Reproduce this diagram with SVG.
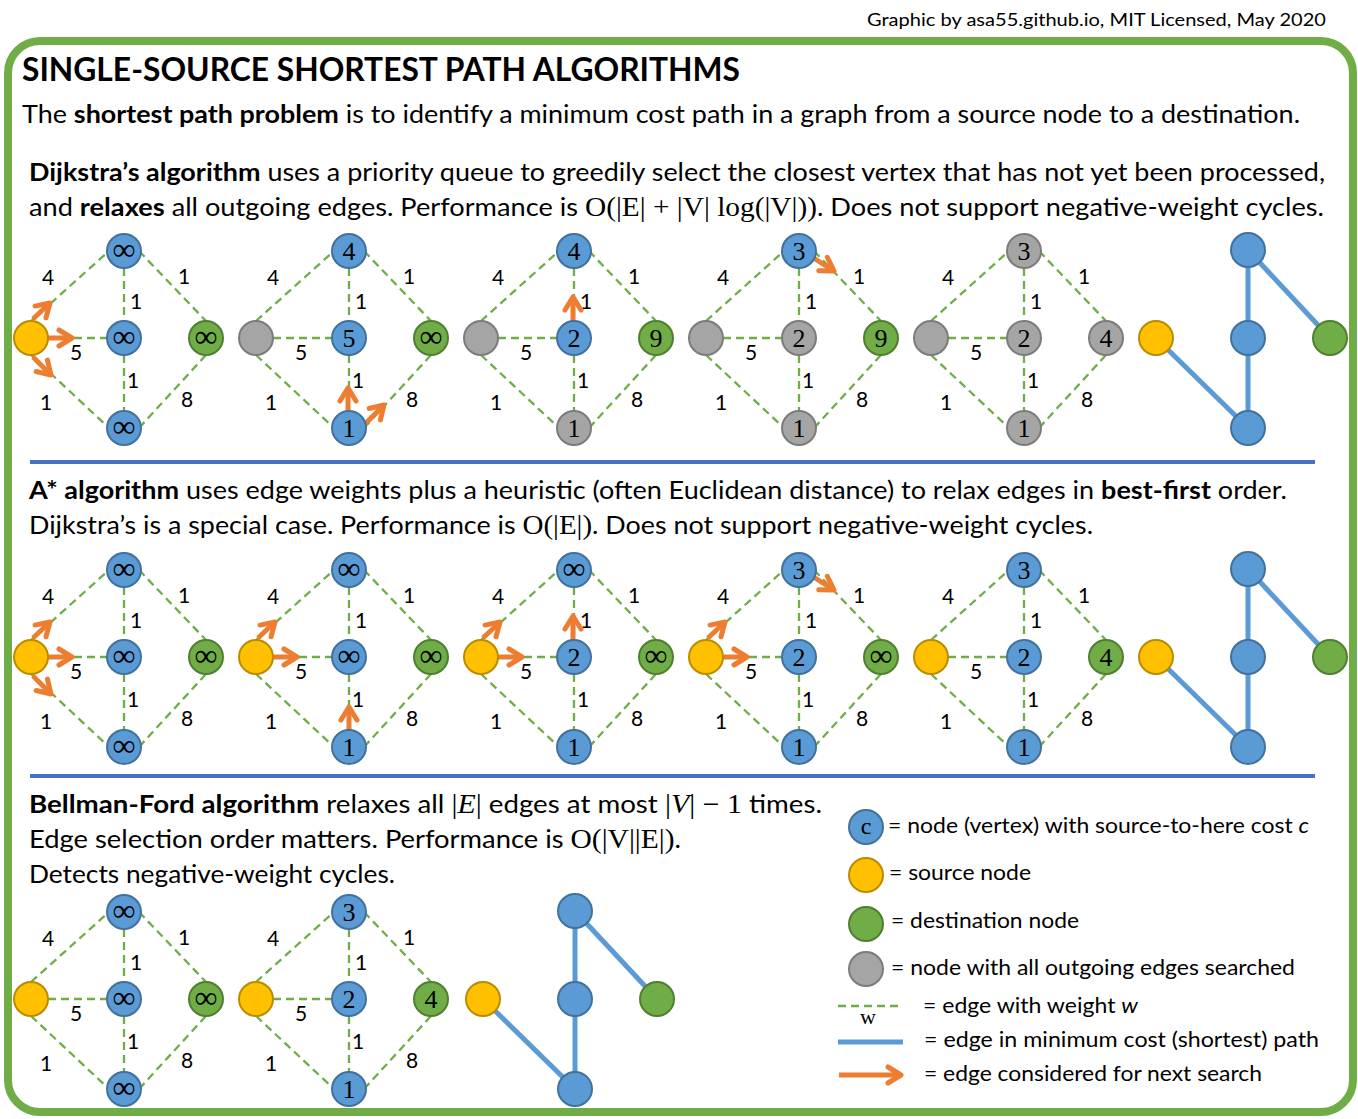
<svg xmlns="http://www.w3.org/2000/svg" xmlns:xlink="http://www.w3.org/1999/xlink" width="1358" height="1119" viewBox="0 0 1358 1119">
<style>
.e line{stroke:#70AD47;stroke-width:2.3;stroke-dasharray:8 5;fill:none}
.w{font-family:Lato,"Liberation Sans",sans-serif;font-size:21px;fill:#000;text-anchor:middle}
.n circle{stroke-width:2}
.b circle{fill:#5B9BD5;stroke:#41719C}
.y circle{fill:#FFC000;stroke:#BC8C00}
.g circle{fill:#70AD47;stroke:#507E32}
.k circle{fill:#A5A5A5;stroke:#7C7C7C}
.v{font-family:"Liberation Serif","DejaVu Serif",serif;font-size:26px;text-anchor:middle;fill:#000}
.i{font-family:"Liberation Serif","DejaVu Serif",serif;font-size:32px;text-anchor:middle;fill:#000}
.p line{stroke:#5B9BD5;stroke-width:5}
.arr{stroke:#ED7D31;stroke-width:5;marker-end:url(#ah)}
.t{font-family:Lato,"Liberation Sans",sans-serif;font-size:25px;fill:#000}
.lg{font-family:Lato,"Liberation Sans",sans-serif;font-size:22px;fill:#000}
.m{font-family:"Liberation Serif","DejaVu Serif",serif;font-size:27px}
.bd{font-weight:bold}
</style>
<defs>
<marker id="ah" viewBox="-18 -12 22 24" refX="0" refY="0" markerWidth="22" markerHeight="24" markerUnits="userSpaceOnUse" orient="auto">
<path d="M-13,-8 L0,0 L-13,8" fill="none" stroke="#ED7D31" stroke-width="5" stroke-linecap="round" stroke-linejoin="round"/>
</marker>
<g id="edges">
<g class="e">
<line x1="0" y1="-17" x2="78" y2="-87"/>
<line x1="0" y1="17" x2="78" y2="90"/>
<line x1="17" y1="0" x2="76" y2="0"/>
<line x1="93" y1="-70" x2="93" y2="-17"/>
<line x1="93" y1="17" x2="93" y2="73"/>
<line x1="108" y1="-87" x2="175" y2="-17"/>
<line x1="108" y1="90" x2="175" y2="17"/>
</g>
<text class="w" x="17" y="-53">4</text>
<text class="w" x="153" y="-54">1</text>
<text class="w" x="105" y="-29">1</text>
<text class="w" x="45" y="22">5</text>
<text class="w" x="102" y="50">1</text>
<text class="w" x="15" y="72">1</text>
<text class="w" x="156" y="69">8</text>
</g>
<g id="path" class="p">
<line x1="0" y1="0" x2="92" y2="90"/>
<line x1="92" y1="90" x2="92" y2="0"/>
<line x1="92" y1="0" x2="92" y2="-88"/>
<line x1="92" y1="-88" x2="174" y2="0"/>
</g>
</defs>

<rect x="0" y="0" width="1358" height="1119" fill="#fff"/>
<rect x="8" y="41" width="1345" height="1071" rx="32" fill="none" stroke="#70AD47" stroke-width="8"/>
<text class="t" x="867" y="26" textLength="459" lengthAdjust="spacingAndGlyphs" style="font-size:18px">Graphic by asa55.github.io, MIT Licensed, May 2020</text>
<text class="t bd" x="22" y="81" style="font-size:33px" textLength="718" lengthAdjust="spacingAndGlyphs">SINGLE-SOURCE SHORTEST PATH ALGORITHMS</text>
<text class="t" x="22" y="123" textLength="1278" lengthAdjust="spacingAndGlyphs">The <tspan class="bd">shortest path problem</tspan> is to identify a minimum cost path in a graph from a source node to a destination.</text>
<text class="t" x="29" y="181" textLength="1296" lengthAdjust="spacingAndGlyphs"><tspan class="bd">Dijkstra’s algorithm</tspan> uses a priority queue to greedily select the closest vertex that has not yet been processed,</text>
<text class="t" x="29" y="216" textLength="1295" lengthAdjust="spacingAndGlyphs">and <tspan class="bd">relaxes</tspan> all outgoing edges. Performance is <tspan class="m">O(|E| + |V| log(|V|))</tspan>. Does not support negative-weight cycles.</text>
<text class="t" x="29" y="499" textLength="1258" lengthAdjust="spacingAndGlyphs"><tspan class="bd">A* algorithm</tspan> uses edge weights plus a heuristic (often Euclidean distance) to relax edges in <tspan class="bd">best-first</tspan> order.</text>
<text class="t" x="29" y="534" textLength="1064" lengthAdjust="spacingAndGlyphs">Dijkstra’s is a special case. Performance is <tspan class="m">O(|E|)</tspan>. Does not support negative-weight cycles.</text>
<text class="t" x="29" y="813" textLength="793" lengthAdjust="spacingAndGlyphs"><tspan class="bd">Bellman-Ford algorithm</tspan> relaxes all <tspan class="m">|<tspan font-style="italic">E</tspan>|</tspan> edges at most <tspan class="m">|<tspan font-style="italic">V</tspan>| − 1</tspan> times.</text>
<text class="t" x="29" y="848" textLength="652" lengthAdjust="spacingAndGlyphs">Edge selection order matters. Performance is <tspan class="m">O(|V||E|)</tspan>.</text>
<text class="t" x="29" y="883" textLength="366" lengthAdjust="spacingAndGlyphs">Detects negative-weight cycles.</text>

<g id="separators" stroke="#4472C4" stroke-width="4">
<line x1="30" y1="462" x2="1315" y2="462"/>
<line x1="30" y1="776" x2="1315" y2="776"/>
</g>

<g id="connectors">
<use xlink:href="#edges" href="#edges" transform="translate(31,338)"/>
<use xlink:href="#edges" href="#edges" transform="translate(256,338)"/>
<use xlink:href="#edges" href="#edges" transform="translate(481,338)"/>
<use xlink:href="#edges" href="#edges" transform="translate(706,338)"/>
<use xlink:href="#edges" href="#edges" transform="translate(931,338)"/>
<use xlink:href="#path" href="#path" transform="translate(1156,338)"/>
<use xlink:href="#edges" href="#edges" transform="translate(31,657)"/>
<use xlink:href="#edges" href="#edges" transform="translate(256,657)"/>
<use xlink:href="#edges" href="#edges" transform="translate(481,657)"/>
<use xlink:href="#edges" href="#edges" transform="translate(706,657)"/>
<use xlink:href="#edges" href="#edges" transform="translate(931,657)"/>
<use xlink:href="#path" href="#path" transform="translate(1156,657)"/>
<use xlink:href="#edges" href="#edges" transform="translate(31,999)"/>
<use xlink:href="#edges" href="#edges" transform="translate(256,999)"/>
<use xlink:href="#path" href="#path" transform="translate(483,999)"/>
<g id="arrows">
<line class="arr" x1="33" y1="319" x2="50" y2="303"/>
<line class="arr" x1="48" y1="338" x2="72" y2="338"/>
<line class="arr" x1="33" y1="357" x2="51" y2="375"/>
<line class="arr" x1="348" y1="411" x2="348" y2="388"/>
<line class="arr" x1="365" y1="424" x2="384" y2="405"/>
<line class="arr" x1="573" y1="321" x2="573" y2="297"/>
<line class="arr" x1="812" y1="257" x2="834" y2="271"/>
<line class="arr" x1="33" y1="638" x2="50" y2="622"/>
<line class="arr" x1="48" y1="657" x2="72" y2="657"/>
<line class="arr" x1="33" y1="676" x2="51" y2="694"/>
<line class="arr" x1="258" y1="638" x2="275" y2="622"/>
<line class="arr" x1="273" y1="657" x2="297" y2="657"/>
<line class="arr" x1="349" y1="730" x2="349" y2="707"/>
<line class="arr" x1="483" y1="638" x2="500" y2="622"/>
<line class="arr" x1="498" y1="657" x2="522" y2="657"/>
<line class="arr" x1="573" y1="640" x2="573" y2="616"/>
<line class="arr" x1="708" y1="638" x2="725" y2="622"/>
<line class="arr" x1="723" y1="657" x2="747" y2="657"/>
<line class="arr" x1="812" y1="576" x2="834" y2="590"/>
</g>
</g>

<!-- Dijkstra row -->
<g id="dijkstra-1" transform="translate(31,338)">
<g id="dj1-s" class="n y"><circle cx="0" cy="0" r="17"/></g>
<g id="dj1-t" class="n b"><circle cx="93" cy="-87" r="17"/><text class="i" x="93" y="-78">∞</text></g>
<g id="dj1-m" class="n b"><circle cx="93" cy="0" r="17"/><text class="i" x="93" y="9">∞</text></g>
<g id="dj1-b" class="n b"><circle cx="93" cy="90" r="17"/><text class="i" x="93" y="99">∞</text></g>
<g id="dj1-d" class="n g"><circle cx="175" cy="0" r="17"/><text class="i" x="175" y="9">∞</text></g>
</g>
<g id="dijkstra-2" transform="translate(256,338)">
<g id="dj2-s" class="n k"><circle cx="0" cy="0" r="17"/></g>
<g id="dj2-t" class="n b"><circle cx="93" cy="-87" r="17"/><text class="v" x="93" y="-78">4</text></g>
<g id="dj2-m" class="n b"><circle cx="93" cy="0" r="17"/><text class="v" x="93" y="9">5</text></g>
<g id="dj2-b" class="n b"><circle cx="93" cy="90" r="17"/><text class="v" x="93" y="99">1</text></g>
<g id="dj2-d" class="n g"><circle cx="175" cy="0" r="17"/><text class="i" x="175" y="9">∞</text></g>
</g>
<g id="dijkstra-3" transform="translate(481,338)">
<g id="dj3-s" class="n k"><circle cx="0" cy="0" r="17"/></g>
<g id="dj3-t" class="n b"><circle cx="93" cy="-87" r="17"/><text class="v" x="93" y="-78">4</text></g>
<g id="dj3-m" class="n b"><circle cx="93" cy="0" r="17"/><text class="v" x="93" y="9">2</text></g>
<g id="dj3-b" class="n k"><circle cx="93" cy="90" r="17"/><text class="v" x="93" y="99">1</text></g>
<g id="dj3-d" class="n g"><circle cx="175" cy="0" r="17"/><text class="v" x="175" y="9">9</text></g>
</g>
<g id="dijkstra-4" transform="translate(706,338)">
<g id="dj4-s" class="n k"><circle cx="0" cy="0" r="17"/></g>
<g id="dj4-t" class="n b"><circle cx="93" cy="-87" r="17"/><text class="v" x="93" y="-78">3</text></g>
<g id="dj4-m" class="n k"><circle cx="93" cy="0" r="17"/><text class="v" x="93" y="9">2</text></g>
<g id="dj4-b" class="n k"><circle cx="93" cy="90" r="17"/><text class="v" x="93" y="99">1</text></g>
<g id="dj4-d" class="n g"><circle cx="175" cy="0" r="17"/><text class="v" x="175" y="9">9</text></g>
</g>
<g id="dijkstra-5" transform="translate(931,338)">
<g id="dj5-s" class="n k"><circle cx="0" cy="0" r="17"/></g>
<g id="dj5-t" class="n k"><circle cx="93" cy="-87" r="17"/><text class="v" x="93" y="-78">3</text></g>
<g id="dj5-m" class="n k"><circle cx="93" cy="0" r="17"/><text class="v" x="93" y="9">2</text></g>
<g id="dj5-b" class="n k"><circle cx="93" cy="90" r="17"/><text class="v" x="93" y="99">1</text></g>
<g id="dj5-d" class="n k"><circle cx="175" cy="0" r="17"/><text class="v" x="175" y="9">4</text></g>
</g>
<g id="dijkstra-path" transform="translate(1156,338)">
<g id="djp-s" class="n y"><circle cx="0" cy="0" r="17"/></g>
<g id="djp-t" class="n b"><circle cx="92" cy="-88" r="17"/></g>
<g id="djp-m" class="n b"><circle cx="92" cy="0" r="17"/></g>
<g id="djp-b" class="n b"><circle cx="92" cy="90" r="17"/></g>
<g id="djp-d" class="n g"><circle cx="174" cy="0" r="17"/></g>
</g>

<!-- A* row -->
<g id="astar-1" transform="translate(31,657)">
<g id="as1-s" class="n y"><circle cx="0" cy="0" r="17"/></g>
<g id="as1-t" class="n b"><circle cx="93" cy="-87" r="17"/><text class="i" x="93" y="-78">∞</text></g>
<g id="as1-m" class="n b"><circle cx="93" cy="0" r="17"/><text class="i" x="93" y="9">∞</text></g>
<g id="as1-b" class="n b"><circle cx="93" cy="90" r="17"/><text class="i" x="93" y="99">∞</text></g>
<g id="as1-d" class="n g"><circle cx="175" cy="0" r="17"/><text class="i" x="175" y="9">∞</text></g>
</g>
<g id="astar-2" transform="translate(256,657)">
<g id="as2-s" class="n y"><circle cx="0" cy="0" r="17"/></g>
<g id="as2-t" class="n b"><circle cx="93" cy="-87" r="17"/><text class="i" x="93" y="-78">∞</text></g>
<g id="as2-m" class="n b"><circle cx="93" cy="0" r="17"/><text class="i" x="93" y="9">∞</text></g>
<g id="as2-b" class="n b"><circle cx="93" cy="90" r="17"/><text class="v" x="93" y="99">1</text></g>
<g id="as2-d" class="n g"><circle cx="175" cy="0" r="17"/><text class="i" x="175" y="9">∞</text></g>
</g>
<g id="astar-3" transform="translate(481,657)">
<g id="as3-s" class="n y"><circle cx="0" cy="0" r="17"/></g>
<g id="as3-t" class="n b"><circle cx="93" cy="-87" r="17"/><text class="i" x="93" y="-78">∞</text></g>
<g id="as3-m" class="n b"><circle cx="93" cy="0" r="17"/><text class="v" x="93" y="9">2</text></g>
<g id="as3-b" class="n b"><circle cx="93" cy="90" r="17"/><text class="v" x="93" y="99">1</text></g>
<g id="as3-d" class="n g"><circle cx="175" cy="0" r="17"/><text class="i" x="175" y="9">∞</text></g>
</g>
<g id="astar-4" transform="translate(706,657)">
<g id="as4-s" class="n y"><circle cx="0" cy="0" r="17"/></g>
<g id="as4-t" class="n b"><circle cx="93" cy="-87" r="17"/><text class="v" x="93" y="-78">3</text></g>
<g id="as4-m" class="n b"><circle cx="93" cy="0" r="17"/><text class="v" x="93" y="9">2</text></g>
<g id="as4-b" class="n b"><circle cx="93" cy="90" r="17"/><text class="v" x="93" y="99">1</text></g>
<g id="as4-d" class="n g"><circle cx="175" cy="0" r="17"/><text class="i" x="175" y="9">∞</text></g>
</g>
<g id="astar-5" transform="translate(931,657)">
<g id="as5-s" class="n y"><circle cx="0" cy="0" r="17"/></g>
<g id="as5-t" class="n b"><circle cx="93" cy="-87" r="17"/><text class="v" x="93" y="-78">3</text></g>
<g id="as5-m" class="n b"><circle cx="93" cy="0" r="17"/><text class="v" x="93" y="9">2</text></g>
<g id="as5-b" class="n b"><circle cx="93" cy="90" r="17"/><text class="v" x="93" y="99">1</text></g>
<g id="as5-d" class="n g"><circle cx="175" cy="0" r="17"/><text class="v" x="175" y="9">4</text></g>
</g>
<g id="astar-path" transform="translate(1156,657)">
<g id="asp-s" class="n y"><circle cx="0" cy="0" r="17"/></g>
<g id="asp-t" class="n b"><circle cx="92" cy="-88" r="17"/></g>
<g id="asp-m" class="n b"><circle cx="92" cy="0" r="17"/></g>
<g id="asp-b" class="n b"><circle cx="92" cy="90" r="17"/></g>
<g id="asp-d" class="n g"><circle cx="174" cy="0" r="17"/></g>
</g>

<!-- Bellman-Ford row -->
<g id="bf-1" transform="translate(31,999)">
<g id="bf1-s" class="n y"><circle cx="0" cy="0" r="17"/></g>
<g id="bf1-t" class="n b"><circle cx="93" cy="-87" r="17"/><text class="i" x="93" y="-78">∞</text></g>
<g id="bf1-m" class="n b"><circle cx="93" cy="0" r="17"/><text class="i" x="93" y="9">∞</text></g>
<g id="bf1-b" class="n b"><circle cx="93" cy="90" r="17"/><text class="i" x="93" y="99">∞</text></g>
<g id="bf1-d" class="n g"><circle cx="175" cy="0" r="17"/><text class="i" x="175" y="9">∞</text></g>
</g>
<g id="bf-2" transform="translate(256,999)">
<g id="bf2-s" class="n y"><circle cx="0" cy="0" r="17"/></g>
<g id="bf2-t" class="n b"><circle cx="93" cy="-87" r="17"/><text class="v" x="93" y="-78">3</text></g>
<g id="bf2-m" class="n b"><circle cx="93" cy="0" r="17"/><text class="v" x="93" y="9">2</text></g>
<g id="bf2-b" class="n b"><circle cx="93" cy="90" r="17"/><text class="v" x="93" y="99">1</text></g>
<g id="bf2-d" class="n g"><circle cx="175" cy="0" r="17"/><text class="v" x="175" y="9">4</text></g>
</g>
<g id="bf-path" transform="translate(483,999)">
<g id="bfp-s" class="n y"><circle cx="0" cy="0" r="17"/></g>
<g id="bfp-t" class="n b"><circle cx="92" cy="-88" r="17"/></g>
<g id="bfp-m" class="n b"><circle cx="92" cy="0" r="17"/></g>
<g id="bfp-b" class="n b"><circle cx="92" cy="90" r="17"/></g>
<g id="bfp-d" class="n g"><circle cx="174" cy="0" r="17"/></g>
</g>

<!-- Legend -->
<g id="legend">
<g id="lg-node" class="n b"><circle cx="866" cy="827" r="17"/><text class="v" x="866" y="834" style="font-size:24px">c</text></g>
<text class="lg" x="888" y="833" textLength="421" lengthAdjust="spacingAndGlyphs">= node (vertex) with source-to-here cost <tspan font-style="italic">c</tspan></text>
<g id="lg-source" class="n y"><circle cx="866" cy="875" r="17"/></g>
<text class="lg" x="889" y="880" textLength="142" lengthAdjust="spacingAndGlyphs">= source node</text>
<g id="lg-dest" class="n g"><circle cx="866" cy="924" r="17"/></g>
<text class="lg" x="891" y="928" textLength="188" lengthAdjust="spacingAndGlyphs">= destination node</text>
<g id="lg-searched" class="n k"><circle cx="866" cy="969" r="17"/></g>
<text class="lg" x="891" y="975" textLength="404" lengthAdjust="spacingAndGlyphs">= node with all outgoing edges searched</text>
<g class="e"><line x1="838" y1="1006" x2="903" y2="1006"/></g>
<text class="v" x="868" y="1024" style="font-size:22px">w</text>
<text class="lg" x="923" y="1013" textLength="215" lengthAdjust="spacingAndGlyphs">= edge with weight <tspan font-style="italic">w</tspan></text>
<line x1="838" y1="1042" x2="903" y2="1042" stroke="#5B9BD5" stroke-width="5"/>
<text class="lg" x="924" y="1047" textLength="395" lengthAdjust="spacingAndGlyphs">= edge in minimum cost (shortest) path</text>
<line class="arr" x1="839" y1="1075" x2="901" y2="1075"/>
<text class="lg" x="924" y="1081" textLength="338" lengthAdjust="spacingAndGlyphs">= edge considered for next search</text>
</g>
</svg>
